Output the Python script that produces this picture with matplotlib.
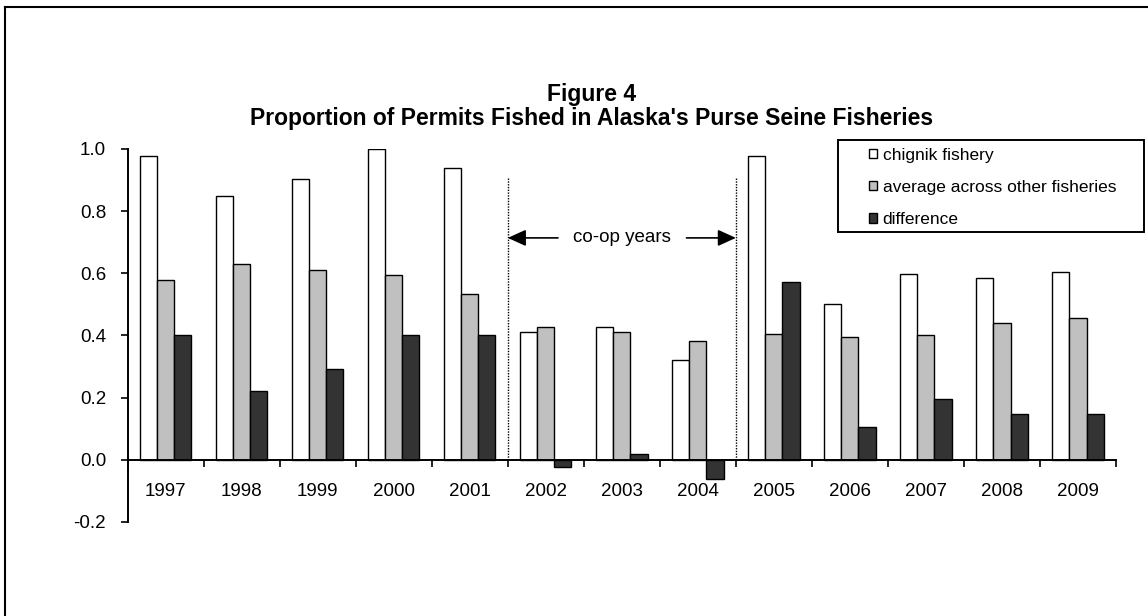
import numpy as np
import matplotlib
matplotlib.use("Agg")
import matplotlib.pyplot as plt
from matplotlib.lines import Line2D
from matplotlib.patches import Rectangle

plt.rcParams['font.family'] = ['Liberation Sans', 'DejaVu Sans']

years = ['1997', '1998', '1999', '2000', '2001', '2002', '2003',
         '2004', '2005', '2006', '2007', '2008', '2009']
chignik = [0.979, 0.848, 0.905, 1.0, 0.938, 0.411, 0.427,
           0.321, 0.977, 0.500, 0.597, 0.586, 0.603]
average = [0.579, 0.629, 0.612, 0.596, 0.535, 0.427, 0.411,
           0.383, 0.405, 0.394, 0.400, 0.439, 0.456]
difference = [0.400, 0.221, 0.293, 0.400, 0.400, -0.024, 0.018,
              -0.062, 0.572, 0.107, 0.197, 0.147, 0.147]
series_names = ['chignik fishery', 'average across other fisheries', 'difference']
coop_start, coop_end = 4.5, 7.5

W, H = 1148, 616
fig = plt.figure(figsize=(W / 100, H / 100), dpi=100)
ax = fig.add_axes([127.7 / W, 1 - 522 / H, (1116 - 127.7) / W, (522 - 149) / H])

x = np.arange(len(years))
bw = 0.225
ax.bar(x - bw, chignik, bw, color='white', edgecolor='black', lw=1, label=series_names[0], zorder=2)
ax.bar(x, average, bw, color='#c0c0c0', edgecolor='black', lw=1, label=series_names[1], zorder=2)
ax.bar(x + bw, difference, bw, color='#333333', edgecolor='black', lw=1, label=series_names[2], zorder=2)

ax.set_xlim(-0.5, len(years) - 0.5)
ax.set_ylim(-0.2, 1.0)
yt = np.arange(-0.2, 1.01, 0.2)
ax.set_yticks(yt)
ax.set_yticklabels(['%.1f' % v for v in yt], fontsize=13.5)

# x axis sits at zero, ticks between categories
ax.spines['bottom'].set_position(('data', 0))
for s in ['top', 'right']:
    ax.spines[s].set_visible(False)
ax.spines['left'].set_linewidth(1.4)
ax.spines['bottom'].set_linewidth(1.4)
ax.set_xticks(np.arange(-0.5, len(years), 1.0))
ax.set_xticklabels([])
ax.tick_params(axis='x', direction='out', length=5, width=1.2)
ax.tick_params(axis='y', direction='out', length=5, width=1.2, pad=10.5)
for i, yr in enumerate(years):
    ax.text(i, -0.102, yr, ha='center', va='center', fontsize=13.5)

# co-op years marker
for xc in (coop_start, coop_end):
    ax.plot([xc, xc], [0, 0.907], ls=(0, (1, 1)), color='black', lw=1, zorder=1)
mid = (coop_start + coop_end) / 2
ya = 0.714
ax.text(mid, ya, 'co-op years', ha='center', va='center', fontsize=13.5)
arw = dict(arrowstyle='-|>,head_length=1.1,head_width=0.5', color='black', lw=1.2,
           shrinkA=0, shrinkB=0)
ax.annotate('', xy=(coop_start, ya), xytext=(5.16, ya), arrowprops=arw)
ax.annotate('', xy=(coop_end, ya), xytext=(6.85, ya), arrowprops=arw)

fig.text(0.515, 1 - 95 / H, 'Figure 4', ha='center', va='center',
         fontsize=16.5, fontweight='bold')
fig.text(0.515, 1 - 118.5 / H, "Proportion of Permits Fished in Alaska's Purse Seine Fisheries",
         ha='center', va='center', fontsize=16.5, fontweight='bold')

# legend: entries without frame, box drawn separately (Excel-style wide padding)
leg = fig.legend(loc='upper left', bbox_to_anchor=(869 / W, 1 - 148 / H), fontsize=12.5,
                 handlelength=0.45, handleheight=0.45, handletextpad=0.33,
                 borderpad=0, labelspacing=0.98, frameon=False, borderaxespad=0)
fig.add_artist(Rectangle((838 / W, 1 - 232 / H), (1144 - 838) / W, (232 - 140) / H,
                         transform=fig.transFigure, fill=False, edgecolor='black', lw=1.4))

# outer chart frame (only left and top visible)
fig.add_artist(Line2D([5 / W, 5 / W], [0, 1 - 7 / H], color='black', lw=1.5))
fig.add_artist(Line2D([5 / W, 1], [1 - 7 / H, 1 - 7 / H], color='black', lw=1.5))

fig.savefig('out.png', dpi=100)
